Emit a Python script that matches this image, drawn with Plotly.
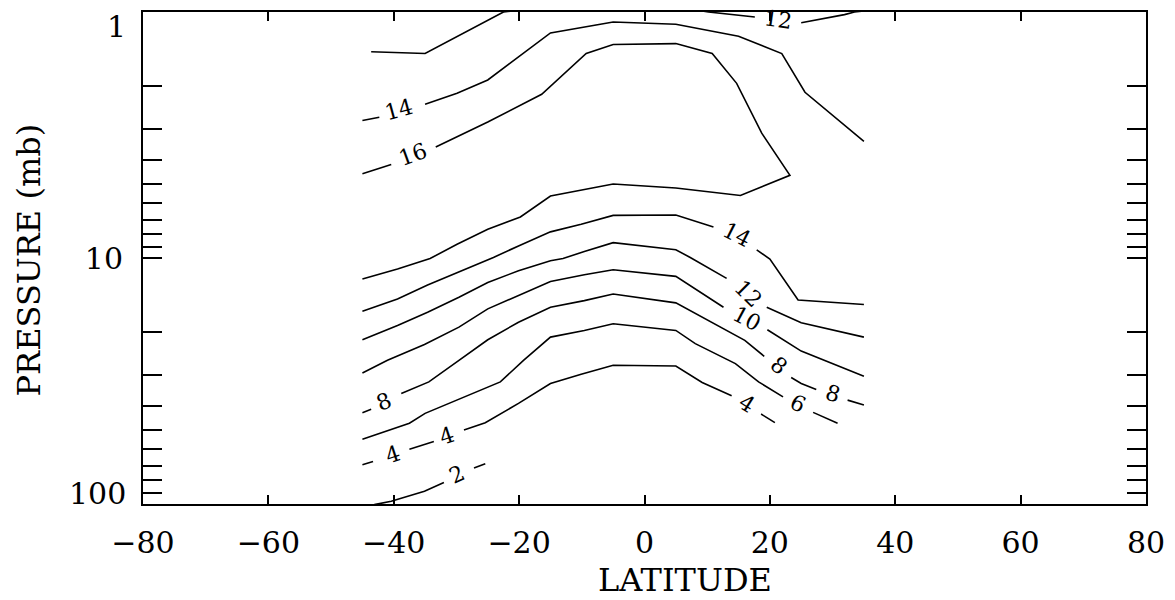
import numpy as np
import plotly.graph_objects as go

# ---------------- data (latitude in degrees, pressure in mb) ----------------
X_TICKS = [-80, -60, -40, -20, 0, 20, 40, 60, 80]
Y_TICKS = [1, 2, 3, 4, 5, 6, 7, 8, 9, 10, 20, 30, 40, 50, 60, 70, 80, 90, 100]
Y_TICKTEXT = ["", "", "", "", "", "", "", "", "", "10", "", "", "", "", "", "", "", "", ""]

# contour 16 (open towards the south)
LAT_16 = [-45, -40.4, None, -33.3, -25, -16.4, -9.3, -5, 5, 10.8, 14.7, 18.7, 23.2,
          15.3, 5, -5, -15, -19.8, -25, -29.9, -34.2, -39.4, -45]
P_16 = [4.54, 4.17, None, 3.54, 2.80, 2.16, 1.475, 1.356, 1.344, 1.475, 1.95, 3.11, 4.61,
        5.57, 5.19, 5.00, 5.60, 6.81, 7.64, 8.79, 10.05, 11.09, 12.17]

# contour 14, upper branch
LAT_14U = [-45, -42.3, None, -35, -29.9, -25, -19.8, -15, -5, 5, 15, 21.9, 25.6, 31.9, 35]
P_14U = [2.76, 2.68, None, 2.37, 2.14, 1.89, 1.50, 1.216, 1.098, 1.121, 1.254, 1.475, 2.12, 2.87, 3.36]

# contour 12, upper branch (partly above 1 mb)
LAT_12U = [-43.6, -35, -22.5, -15, -5, 5, 10.2, 14.5, 17.6, None, 25, 31.9, 33.5, 35]
P_12U = [1.451, 1.475, 1.0, 0.95, 0.93, 0.95, 1.0, 1.031, 1.048, None, 1.105, 1.025, 1.0, 0.99]

# contour 14, lower branch
LAT_14L = [-45, -39.4, -34.6, -29.1, -24.1, -20.1, -15, -10.1, -5, 5, 11.0, None, 17.9, 20, 24.5, 35]
P_14L = [16.46, 14.67, 12.87, 11.27, 9.95, 8.93, 7.83, 7.29, 6.71, 6.69, 7.48, None, 9.26, 10.10, 14.81, 15.46]

# contour 12, lower branch
LAT_12L = [-45, -39.4, -34.6, -29.6, -25, -20.1, -15, -13.0, -9.6, -5, 5, 7.3, 13.1, None, 19.5, 25, 35]
P_12L = [21.49, 18.80, 16.61, 14.45, 12.57, 11.27, 10.26, 10.05, 9.41, 8.66, 9.26, 9.95, 12.10, None,
         15.86, 18.34, 20.97]

# contour 10
LAT_10 = [-45, -41.0, -35.1, -29.6, -25, -20.1, -15, -9.6, -5, 5, 10.5, 12.6, None, 19.6, 25, 35]
P_10 = [29.33, 26.06, 22.45, 19.10, 16.10, 14.22, 12.45, 11.69, 11.16, 11.88, 14.67, 15.86, None,
        19.57, 23.9, 30.25]

# contour 8
LAT_8 = [-45, -43.6, None, -38.8, -34.4, -29.6, -25, -20.1, -15, -9.6, -5, 5, 9.7, 16.0, 19.1, None,
         23.4, 25, 27.4, None, 32.4, 35]
P_8 = [42.56, 41.24, None, 35.52, 31.88, 26.06, 21.49, 18.24, 15.86, 14.90, 14.00, 15.22, 17.67, 21.63,
       25.10, None, 30.62, 32.36, 34.22, None, 37.82, 39.62]

# contour 6
LAT_6 = [-45, -37.5, -35, -29.3, -23.0, -19.3, -15, -9.6, -5, 5, 8.1, 14.5, 18.2, 22.1, None, 26.9, 30.8]
P_6 = [54.53, 46.97, 42.80, 37.22, 31.88, 26.06, 20.97, 19.70, 18.51, 19.70, 22.30, 26.87, 31.88, 36.67,
       None, 42.41, 46.97]

# contour 4
LAT_4 = [-45, -43.3, None, -37.5, -33.6, None, -28.8, -25.4, -20.1, -15, -10.1, -5, 5, 9.2, 13.9, None,
         18.6, 20.8]
P_4 = [69.29, 67.19, None, 59.86, 55.77, None, 50.0, 46.71, 38.99, 32.36, 29.69, 27.30, 27.48, 32.06,
       36.34, None, 43.08, 46.71]

# contour 2
LAT_2 = [-43.1, -40.4, -35.1, -32.0, None, -27.2, -25.4]
P_2 = [100.6, 97.5, 88.8, 81.7, None, 71.45, 68.65]

# contour labels: text, latitude, pressure, rotation
LABEL_TEXT = ["16", "14", "12", "14", "12", "10", "8", "8", "8", "6", "4", "4", "4", "2"]
LABEL_LAT = [-37.0, -39.1, 21.3, 14.7, 16.5, 16.3, -41.5, 21.4, 30.0, 24.5, -40.15, -31.45, 16.3, -29.9]
LABEL_P = [3.80, 2.50, 1.077, 8.00, 14.0, 17.57, 38.42, 27.3, 35.5, 39.0, 63.1, 52.9, 39.0, 76.0]
LABEL_ANGLE = [-20, -15, 8, 27, 45, 28, -22, 38, 17, 27, -18, -18, 32, -25]

CONTOURS = [(LAT_16, P_16), (LAT_14U, P_14U), (LAT_12U, P_12U), (LAT_14L, P_14L),
            (LAT_12L, P_12L), (LAT_10, P_10), (LAT_8, P_8), (LAT_6, P_6), (LAT_4, P_4), (LAT_2, P_2)]

# ---------------- figure ----------------
FONT = "DejaVu Serif"
fig = go.Figure()
for lat, p in CONTOURS:
    fig.add_trace(go.Scatter(x=lat, y=p, mode="lines", connectgaps=False,
                             line=dict(color="black", width=1.6), showlegend=False,
                             hoverinfo="skip"))

for t, la, pr, ang in zip(LABEL_TEXT, LABEL_LAT, LABEL_P, LABEL_ANGLE):
    fig.add_annotation(x=la, y=float(np.log10(pr)), text=t, textangle=ang, showarrow=False,
                       font=dict(family=FONT, size=22, color="black"),
                       xanchor="center", yanchor="middle")

# end labels of the log axis, nudged inside like the original
fig.add_annotation(xref="paper", yref="y", x=0, y=0, text="1", showarrow=False,
                   xanchor="right", yanchor="middle", xshift=-15, yshift=-14,
                   font=dict(family=FONT, size=30, color="black"))
fig.add_annotation(xref="paper", yref="y", x=0, y=2, text="100", showarrow=False,
                   xanchor="right", yanchor="middle", xshift=-15, yshift=11,
                   font=dict(family=FONT, size=30, color="black"))

# axis titles
fig.add_annotation(xref="paper", yref="paper", x=0.5406, y=0, text="LATITUDE", showarrow=False,
                   xanchor="center", yanchor="middle", yshift=-76,
                   font=dict(family=FONT, size=32, color="black"))
fig.add_annotation(xref="paper", yref="paper", x=0, y=0.495, text="PRESSURE (mb)", showarrow=False,
                   textangle=-90, xanchor="center", yanchor="middle", xshift=-114,
                   font=dict(family=FONT, size=32, color="black"))

fig.update_xaxes(range=[-80, 80], tickvals=X_TICKS, ticks="inside", ticklen=9, tickwidth=1.5,
                 tickcolor="black", showline=True, linecolor="black", linewidth=2, mirror="ticks",
                 showgrid=False, zeroline=False, ticklabelstandoff=11,
                 tickfont=dict(family=FONT, size=30, color="black"))
fig.update_yaxes(type="log", range=[2, 0], tickvals=Y_TICKS, ticktext=Y_TICKTEXT, ticks="inside",
                 ticklen=19, tickwidth=1.5, tickcolor="black", showline=True, linecolor="black",
                 linewidth=2, mirror="ticks", showgrid=False, zeroline=False, ticklabelstandoff=12,
                 tickfont=dict(family=FONT, size=30, color="black"))

fig.update_layout(width=1175, height=600, paper_bgcolor="white", plot_bgcolor="white",
                  margin=dict(l=143, r=22, t=10, b=96), showlegend=False)

fig.write_html("out.html", config={"displayModeBar": False},
               post_script="document.body.style.margin='0';document.body.style.overflow='hidden';")
